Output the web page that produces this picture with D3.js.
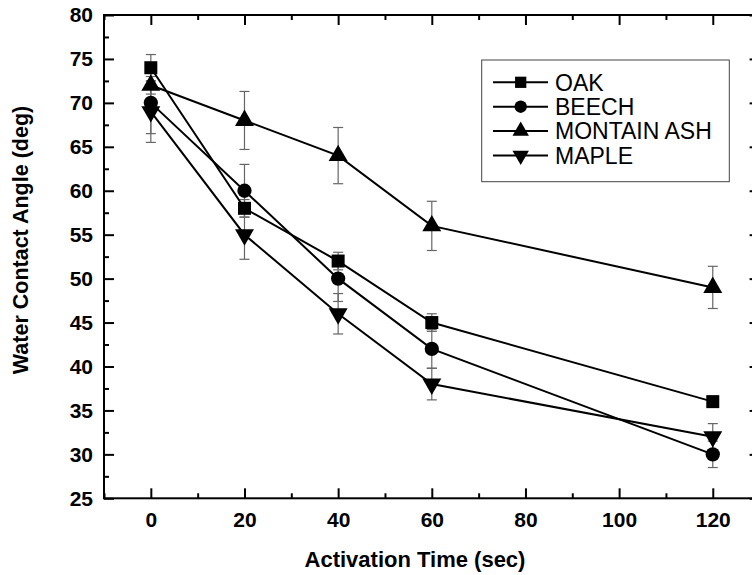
<!DOCTYPE html>
<html>
<head>
<meta charset="utf-8">
<script src="https://cdn.jsdelivr.net/npm/d3@7"></script>
<style>
  body { margin: 0; background: #fff; }
  text { font-family: "Liberation Sans", Arial, sans-serif; fill: #000; }
</style>
</head>
<body>
<script>
'use strict';

// activation time (sec)
const times = [0, 20, 40, 60, 120]

const seriesNames = ["OAK", "BEECH", "MONTAIN ASH", "MAPLE"]
const oak = [74, 58, 52, 45, 36]
const beech = [70, 60, 50, 42, 30]
const ash = [72, 68, 64, 56, 49]
const maple = [69, 55, 46, 38, 32]

const oakErr = [1.5, 1, 1, 1, 0.6]
const beechErr = [3.5, 3, 2.6, 2.2, 1.5]
const ashErr = [1, 3.3, 3.2, 2.8, 2.4]
const mapleErr = [3.5, 2.8, 2.3, 1.8, 1.5]

const xTicks = [0, 20, 40, 60, 80, 100, 120]
const xMinor = [-10, 10, 30, 50, 70, 90, 110, 130]
const yTicks = [25, 30, 35, 40, 45, 50, 55, 60, 65, 70, 75, 80]
const yMinor = [27.5, 32.5, 37.5, 42.5, 47.5, 52.5, 57.5, 62.5, 67.5, 72.5, 77.5]

const m = {
  width: 752,
  height: 575,
  left: 104,
  right: 759.6,
  top: 15,
  bottom: 498.3
}

const symbols = [d3.symbolSquare, d3.symbolCircle, d3.symbolTriangle, d3.symbolTriangle]
const symSize = [169, 160, 156, 156]
const symRot = [0, 0, 0, 180]

let series = seriesNames.map((name, i) => ({
  name: name,
  values: [oak, beech, ash, maple][i],
  errs: [oakErr, beechErr, ashErr, mapleErr][i],
  idx: i
}))

let svg = d3.select('body')
  .append('svg')
  .attr('width', m.width)
  .attr('height', m.height)

let xScale = d3.scaleLinear()
  .domain([-10, 130])
  .range([m.left, m.right])

let yScale = d3.scaleLinear()
  .domain([25, 80])
  .range([m.bottom, m.top])

drawAxes()
drawData()
drawLegend()
drawLabels()

function styleAxis(g) {
  g.select('.domain').remove()
  g.selectAll('line').attr('stroke', '#000').attr('stroke-width', 2)
  g.selectAll('text')
    .style('font-family', '"Liberation Sans", Arial, sans-serif')
    .style('font-weight', 'bold')
    .style('font-size', '21px')
    .attr('fill', '#000')
}

function drawAxes() {
  // major ticks, pointing inward
  svg.append('g')
    .attr('transform', 'translate(0,' + m.bottom + ')')
    .call(d3.axisBottom(xScale).tickValues(xTicks).tickSize(-10).tickPadding(14))
    .call(styleAxis)
  svg.append('g')
    .attr('transform', 'translate(' + m.left + ',0)')
    .call(d3.axisLeft(yScale).tickValues(yTicks).tickSize(-10).tickPadding(11))
    .call(styleAxis)
  svg.append('g')
    .attr('transform', 'translate(0,' + m.top + ')')
    .call(d3.axisTop(xScale).tickValues(xTicks).tickSize(-10).tickFormat(''))
    .call(styleAxis)
  svg.append('g')
    .attr('transform', 'translate(' + m.right + ',0)')
    .call(d3.axisRight(yScale).tickValues(yTicks).tickSize(-10).tickFormat(''))
    .call(styleAxis)

  // minor ticks
  svg.append('g')
    .attr('transform', 'translate(0,' + m.bottom + ')')
    .call(d3.axisBottom(xScale).tickValues(xMinor).tickSize(-5).tickFormat(''))
    .call(styleAxis)
  svg.append('g')
    .attr('transform', 'translate(' + m.left + ',0)')
    .call(d3.axisLeft(yScale).tickValues(yMinor).tickSize(-5).tickFormat(''))
    .call(styleAxis)
  svg.append('g')
    .attr('transform', 'translate(0,' + m.top + ')')
    .call(d3.axisTop(xScale).tickValues(xMinor).tickSize(-5).tickFormat(''))
    .call(styleAxis)
  svg.append('g')
    .attr('transform', 'translate(' + m.right + ',0)')
    .call(d3.axisRight(yScale).tickValues(yMinor).tickSize(-5).tickFormat(''))
    .call(styleAxis)

  svg.append('rect')
    .attr('x', m.left)
    .attr('y', m.top)
    .attr('width', m.right - m.left)
    .attr('height', m.bottom - m.top)
    .attr('fill', 'none')
    .attr('stroke', '#000')
    .attr('stroke-width', 2)
}

function drawData() {
  let line = d3.line()
    .x((d, i) => xScale(times[i]))
    .y((d) => yScale(d))

  // error bars
  series.forEach((s) => {
    let g = svg.append('g').attr('class', 'err')
    s.values.forEach((v, i) => {
      let x = xScale(times[i])
      let y1 = yScale(v - s.errs[i])
      let y2 = yScale(v + s.errs[i])
      g.append('line')
        .attr('x1', x).attr('x2', x).attr('y1', y1).attr('y2', y2)
      g.append('line')
        .attr('x1', x - 5).attr('x2', x + 5).attr('y1', y1).attr('y2', y1)
      g.append('line')
        .attr('x1', x - 5).attr('x2', x + 5).attr('y1', y2).attr('y2', y2)
    })
    g.selectAll('line')
      .attr('stroke', '#666')
      .attr('stroke-width', 1.2)
  })

  series.forEach((s) => {
    svg.append('path')
      .datum(s.values)
      .attr('d', line)
      .attr('fill', 'none')
      .attr('stroke', '#000')
      .attr('stroke-width', 2)
  })

  series.forEach((s) => {
    svg.selectAll('.mk' + s.idx)
      .data(s.values)
      .enter()
      .append('path')
        .attr('class', 'mk' + s.idx)
        .attr('d', d3.symbol().type(symbols[s.idx]).size(symSize[s.idx]))
        .attr('transform', (d, i) => 'translate(' + xScale(times[i]) + ',' + yScale(d) + ') rotate(' + symRot[s.idx] + ')')
        .attr('fill', '#000')
  })
}

function drawLegend() {
  svg.append('rect')
    .attr('x', 481.7)
    .attr('y', 60)
    .attr('width', 247.6)
    .attr('height', 121.7)
    .attr('fill', '#fff')
    .attr('stroke', '#444')
    .attr('stroke-width', 1)

  let legend = svg.selectAll('.legend')
    .data(series)
    .enter().append('g')
      .attr('class', 'legend')
      .attr('transform', (d, i) => 'translate(0,' + (82.3 + i * 24.4) + ')')

  legend.append('line')
    .attr('x1', 493).attr('x2', 548)
    .attr('stroke', '#000')
    .attr('stroke-width', 2)

  legend.append('path')
    .attr('d', (d) => d3.symbol().type(symbols[d.idx]).size(symSize[d.idx] * 0.75)())
    .attr('transform', (d) => 'translate(520.7,0) rotate(' + symRot[d.idx] + ')')
    .attr('fill', '#000')

  legend.append('text')
    .attr('x', 555)
    .attr('dy', '0.36em')
    .style('font-size', '23px')
    .text((d) => d.name)
}

function drawLabels() {
  svg.append('text')
    .attr('x', (m.left + 752) / 2 - 13)
    .attr('y', 566.5)
    .attr('text-anchor', 'middle')
    .style('font-size', '22px')
    .style('font-weight', 'bold')
    .text('Activation Time (sec)')

  svg.append('text')
    .attr('transform', 'translate(28, 240) rotate(-90)')
    .attr('text-anchor', 'middle')
    .style('font-size', '21.5px')
    .style('font-weight', 'bold')
    .text('Water Contact Angle (deg)')
}
</script>
</body>
</html>
